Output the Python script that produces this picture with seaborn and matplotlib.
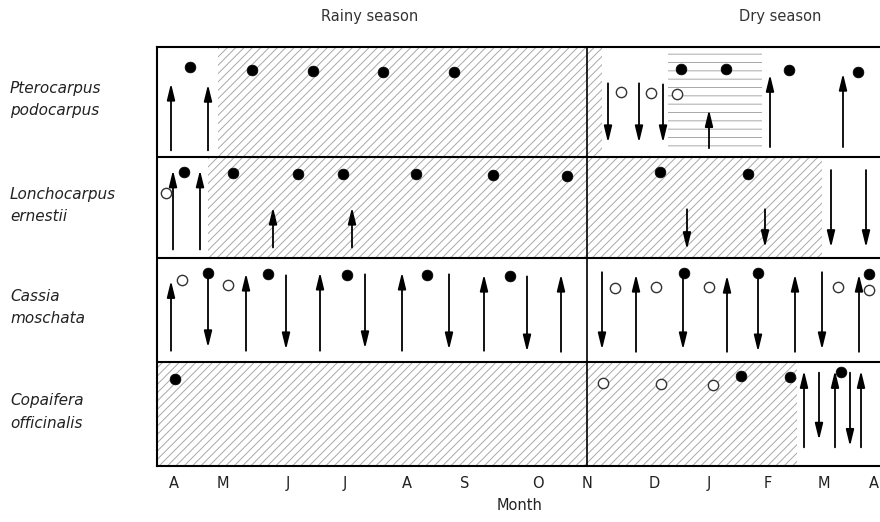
import matplotlib
matplotlib.use("Agg")
import matplotlib.pyplot as plt
import matplotlib.transforms as mtransforms
import pandas as pd
import seaborn as sns

# ось времени: позиции месяцев (в единицах рисунка)
months = ["A", "M", "J", "J", "A", "S", "O", "N", "D", "J", "F", "M", "A"]
month_pos = [174, 223, 288, 345, 407, 465, 538, 587, 654, 709, 768, 824, 874]
x_start, x_end = 157, 880

species = ["Pterocarpus\npodocarpus", "Lonchocarpus\nernestii",
           "Cassia\nmoschata", "Copaifera\nofficinalis"]
# границы строк (0 = верхняя строка)
row_bottom = [2.95, 1.99, 0.99, 0.0]
row_top = [4.0, 2.95, 1.99, 0.99]

# заштрихованные участки: строка, начало, конец, тип штриховки, низ/верх (доля высоты)
hatch_row = [0, 0, 1, 3]
hatch_x0 = [218, 668, 208, 157]
hatch_x1 = [602, 762, 822, 797]
hatch_kind = ["////", "--", "////", "////"]
hatch_lo = [0.0, 0.064, 0.0, 0.0]
hatch_hi = [1.0, 0.945, 1.0, 1.0]

# закрашенные кружки
dot_row = [0] * 9 + [1] * 9 + [2] * 8 + [3] * 4
dot_x = [190, 252, 313, 383, 454, 681, 726, 789, 858,
         184, 233, 298, 343, 416, 493, 567, 660, 748,
         208, 268, 347, 427, 510, 684, 758, 869,
         175, 741, 790, 841]
dot_h = [0.82, 0.79, 0.78, 0.77, 0.77, 0.80, 0.80, 0.79, 0.77,
         0.85, 0.84, 0.83, 0.83, 0.83, 0.82, 0.81, 0.85, 0.83,
         0.85, 0.84, 0.83, 0.83, 0.82, 0.85, 0.85, 0.84,
         0.84, 0.87, 0.86, 0.91]

# пустые кружки
open_row = [0] * 3 + [1] + [2] * 7 + [3] * 3
open_x = [621, 651, 677,
          166,
          182, 228, 615, 656, 709, 838, 869,
          603, 661, 713]
open_h = [0.59, 0.58, 0.57,
          0.64,
          0.79, 0.74, 0.71, 0.72, 0.72, 0.72, 0.69,
          0.80, 0.79, 0.78]

# стрелки: строка, x, начало, конец (доля высоты строки)
arrow_row = [0] * 8 + [1] * 8 + [2] * 19 + [3] * 5
arrow_x = [171, 208, 608, 639, 663, 709, 770, 843,
           173, 200, 273, 352, 687, 765, 831, 866,
           171, 246, 320, 402, 484, 561, 636, 727, 795, 859,
           208, 286, 365, 449, 527, 602, 683, 758, 822,
           804, 819, 835, 850, 861]
arrow_from = [0.06, 0.06, 0.67, 0.67, 0.66, 0.08, 0.09, 0.09,
              0.08, 0.08, 0.10, 0.10, 0.48, 0.48, 0.87, 0.87,
              0.11, 0.11, 0.11, 0.11, 0.11, 0.10, 0.10, 0.10, 0.10, 0.10,
              0.84, 0.83, 0.84, 0.84, 0.82, 0.86, 0.84, 0.84, 0.86,
              0.18, 0.90, 0.18, 0.90, 0.18]
arrow_to = [0.67, 0.66, 0.13, 0.13, 0.13, 0.43, 0.75, 0.76,
            0.87, 0.87, 0.50, 0.50, 0.08, 0.10, 0.10, 0.10,
            0.78, 0.85, 0.86, 0.86, 0.84, 0.84, 0.84, 0.83, 0.84, 0.84,
            0.14, 0.12, 0.13, 0.12, 0.10, 0.12, 0.12, 0.10, 0.12,
            0.92, 0.25, 0.92, 0.19, 0.92]


def row_y(r, h):
    return row_bottom[r] + h * (row_top[r] - row_bottom[r])


sns.set_theme(style="white")
plt.rcParams["font.family"] = ["DejaVu Sans"]
plt.rcParams["hatch.linewidth"] = 0.7

fig = plt.figure(figsize=(8.8, 5.22), dpi=100)
ax = fig.add_axes([157 / 880, 1 - 466 / 522, 1 - 157 / 880, 419 / 522])
ax.set_xlim(x_start, x_end)
ax.set_ylim(0, 4)

# штриховка
for r, a, b, k, lo, hi in zip(hatch_row, hatch_x0, hatch_x1, hatch_kind, hatch_lo, hatch_hi):
    ax.fill_between([a, b], row_y(r, lo), row_y(r, hi), facecolor="none",
                    edgecolor="#a8a8a8", linewidth=0, hatch=k, zorder=1)

# разделители строк и сезонов
for r in range(1, 4):
    ax.axhline(row_top[r], color="black", lw=1.5, zorder=2)
ax.axvline(month_pos[7], color="black", lw=1.2, zorder=2)

# стрелки
for r, x, a, b in zip(arrow_row, arrow_x, arrow_from, arrow_to):
    ax.annotate("", xy=(x, row_y(r, b)), xytext=(x, row_y(r, a)),
                arrowprops=dict(arrowstyle="-|>,head_length=0.7,head_width=0.17",
                                color="black", lw=1.3, mutation_scale=14,
                                shrinkA=0, shrinkB=0), zorder=3)

dots = pd.DataFrame({"x": dot_x, "y": [row_y(r, h) for r, h in zip(dot_row, dot_h)]})
opens = pd.DataFrame({"x": open_x, "y": [row_y(r, h) for r, h in zip(open_row, open_h)]})
sns.scatterplot(data=dots, x="x", y="y", ax=ax, color="black", s=60,
                edgecolor="black", linewidth=0.5, zorder=4)
sns.scatterplot(data=opens, x="x", y="y", ax=ax, color="white", s=55,
                edgecolor="#333333", linewidth=1.0, zorder=4)

# оси
for side in ["left", "top", "bottom"]:
    ax.spines[side].set_visible(True)
    ax.spines[side].set_color("black")
    ax.spines[side].set_linewidth(1.5)
ax.spines["right"].set_visible(False)
ax.set_xticks(month_pos, months)
ax.set_yticks([])
ax.tick_params(axis="x", length=0, pad=7, labelsize=10.5, labelcolor="#222222")
ax.set_xlabel("")
ax.set_ylabel("")

# подписи видов
trans = mtransforms.blended_transform_factory(fig.transFigure, ax.transData)
for r, name in enumerate(species):
    ax.text(10 / 880, (row_bottom[r] + row_top[r]) / 2 + 0.02, name, transform=trans,
            ha="left", va="center", fontsize=11, style="italic", color="#222222",
            linespacing=1.6)

fig.text(370 / 880, 1 - 17 / 522, "Rainy season", ha="center", va="center",
         fontsize=10.5, color="#333333")
fig.text(780 / 880, 1 - 17 / 522, "Dry season", ha="center", va="center",
         fontsize=10.5, color="#333333")
fig.text(520 / 880, 1 - 506 / 522, "Month", ha="center", va="center",
         fontsize=10.5, color="#222222")

fig.savefig("out.png", dpi=100)
